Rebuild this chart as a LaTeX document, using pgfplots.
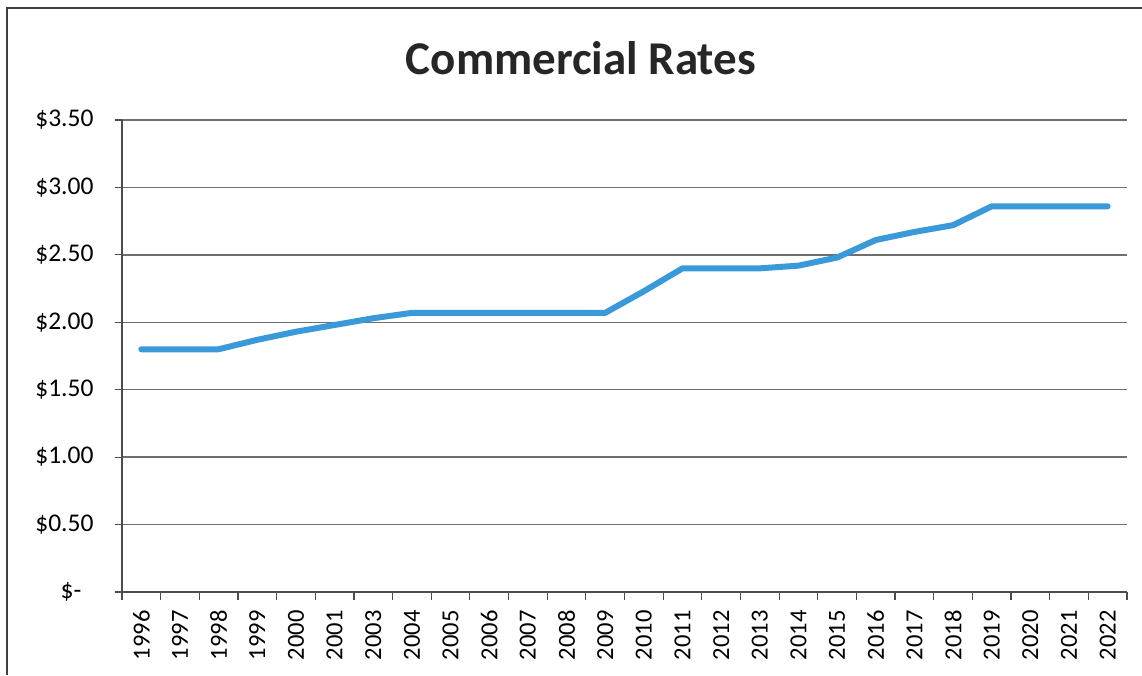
\documentclass[border=0pt]{standalone}
\usepackage{fontspec}
\setmainfont{Carlito}
\usepackage{pgfplots}
\pgfplotsset{compat=1.18}
\definecolor{lineblue}{RGB}{58,154,217}
\definecolor{gridgray}{RGB}{110,110,110}
\begin{document}
\begin{tikzpicture}
\path[use as bounding box] (0pt,0pt) rectangle (1142pt,675pt);
\draw[line width=1.5pt, black!75] (7pt,0pt) -- (7pt,667pt) -- (1142pt,667pt);
\node[font=\bfseries\fontsize{47}{52}\selectfont, text=black!85] at (581pt,617pt) {Commercial Rates};
\begin{axis}[
  at={(122pt,83pt)}, anchor=south west,
  scale only axis, width=1005pt, height=472pt,
  xmin=-0.5, xmax=25.5, ymin=0, ymax=3.5,
  axis x line*=bottom, axis y line*=left,
  axis line style={line width=1.2pt, black!70, -},
  xtick={0,...,25},
  xticklabels={1996,1997,1998,1999,2000,2001,2003,2004,2005,2006,2007,2008,2009,2010,2011,2012,2013,2014,2015,2016,2017,2018,2019,2020,2021,2022},
  major x tick style={draw=none},
  minor xtick={-0.5,0.5,...,25.5},
  minor tick length=8pt,
  minor x tick style={line width=1.2pt, black!70},
  x tick label style={rotate=90, anchor=east, font=\fontsize{24.5}{26}\selectfont},
  xticklabel shift=8pt,
  ytick={0,0.5,1,1.5,2,2.5,3,3.5},
  yticklabels={\$-\rule{12pt}{0pt},\$0.50,\$1.00,\$1.50,\$2.00,\$2.50,\$3.00,\$3.50},
  y tick label style={font=\fontsize{25.5}{28}\selectfont},
  yticklabel shift=18pt,
  major y tick style={line width=1.2pt, black!70},
  tick align=outside,
  major tick length=7pt,
  ymajorgrids,
  major grid style={line width=1.4pt, gridgray},
  clip=false,
]
\addplot[lineblue, line width=6pt, line join=round, line cap=round] coordinates {
(0,1.80) (1,1.80) (2,1.80) (3,1.87) (4,1.93) (5,1.98) (6,2.03) (7,2.07) (8,2.07) (9,2.07) (10,2.07) (11,2.07) (12,2.07) (13,2.23) (14,2.40) (15,2.40) (16,2.40) (17,2.42) (18,2.48) (19,2.61) (20,2.67) (21,2.72) (22,2.86) (23,2.86) (24,2.86) (25,2.86)
};
\end{axis}
\end{tikzpicture}
\end{document}
